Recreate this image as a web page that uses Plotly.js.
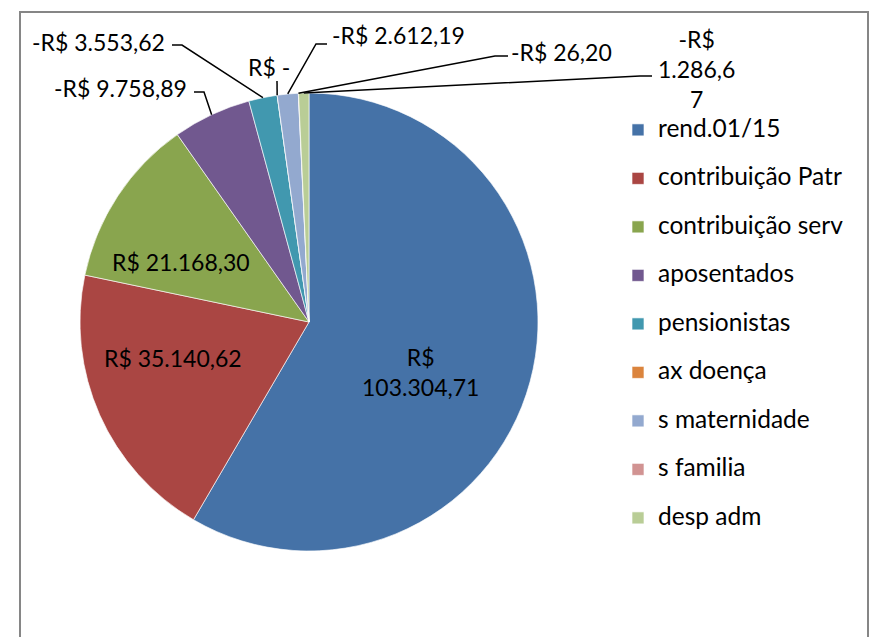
<!DOCTYPE html>
<html>
<head>
<meta charset="utf-8">
<script src="https://cdn.plot.ly/plotly-3.0.1.min.js"></script>
<style>html,body{margin:0;padding:0;background:#fff;}#chart{width:872px;height:637px;}</style>
</head>
<body>
<div id="chart"></div>
<script>
// ---- data ----
const categories = ['rend.01/15', 'contribuição Patr', 'contribuição serv', 'aposentados', 'pensionistas', 'ax doença', 's maternidade', 's familia', 'desp adm'];
const values = [103304.71, 35140.62, 21168.30, -9758.89, -3553.62, 0, -2612.19, -26.20, -1286.67];
const colors = ['#4572A7', '#AA4643', '#89A54E', '#71588F', '#4198AF', '#DB843D', '#93A9CF', '#D19392', '#B9CD96'];

// ---- helpers ----
function fmt(v) {
  if (v === 0) return 'R$ -';
  const sign = v < 0 ? '-' : '';
  const parts = Math.abs(v).toFixed(2).split('.');
  const intPart = parts[0].replace(/\B(?=(\d{3})+(?!\d))/g, '.');
  return sign + 'R$ ' + intPart + ',' + parts[1];
}
const W = 872, H = 637;
const px = x => x / W, py = y => 1 - y / H;

// pie geometry (layout)
const CX = 309, CY = 322, R = 229;
const absVals = values.map(Math.abs);
const total = absVals.reduce((a, b) => a + b, 0);
function edge(i) {
  let cum = 0;
  for (let k = 0; k < i; k++) cum += absVals[k];
  const th = 2 * Math.PI * (cum + absVals[i] / 2) / total;
  return [CX + R * Math.sin(th), CY - R * Math.cos(th)];
}

const labelsText = values.map(fmt);
labelsText[0] = labelsText[0].replace(' ', '<br>');
labelsText[8] = labelsText[8].replace(' ', '<br>');
labelsText[8] = labelsText[8].slice(0, -1) + '<br>' + labelsText[8].slice(-1);

// data-label placement (layout, pixels): text centre and optional leader elbow/stub
const placement = [
  {tx: 420, ty: 372},
  {tx: 173, ty: 358},
  {tx: 181, ty: 262},
  {tx: 120, ty: 88, elbow: [204, 92], stub: [194, 92]},
  {tx: 98, ty: 42, elbow: [182, 45], stub: [172, 45]},
  {tx: 269, ty: 67, elbow: [277, 81], stub: [277, 81]},
  {tx: 398, ty: 35, elbow: [316, 44], stub: [327, 44]},
  {tx: 561, ty: 52, elbow: [495, 56], stub: [508, 56]},
  {tx: 696, ty: 69, elbow: [640, 76], stub: [652, 76]}
];

const FONT = 'Lato, "Open Sans", sans-serif';
const annotations = [];
const shapes = [];
placement.forEach((o, i) => {
  annotations.push({
    x: px(o.tx), y: py(o.ty), xref: 'paper', yref: 'paper',
    text: labelsText[i], showarrow: false, xanchor: 'center', yanchor: 'middle',
    font: {family: FONT, size: 23, color: '#000'}
  });
  if (o.elbow) {
    const e = edge(i);
    shapes.push({
      type: 'path', xref: 'paper', yref: 'paper',
      path: 'M' + px(e[0]) + ',' + py(e[1]) + ' L' + px(o.elbow[0]) + ',' + py(o.elbow[1]) + ' L' + px(o.stub[0]) + ',' + py(o.stub[1]),
      line: {color: '#000', width: 1.5}
    });
  }
});
// chart frame
shapes.push({type: 'rect', xref: 'paper', yref: 'paper', x0: px(20), x1: px(868), y0: -0.05, y1: py(12), line: {color: '#868686', width: 2}});

const trace = {
  type: 'pie',
  labels: categories.map(c => '<span style="font-size:24.5px">' + c + '</span><br>&nbsp;'),
  values: absVals,
  sort: false,
  direction: 'clockwise',
  rotation: 0,
  marker: {colors: colors, line: {color: 'rgba(255,255,255,0.8)', width: 0.8}},
  textinfo: 'none',
  hoverinfo: 'none',
  domain: {x: [px(CX - R), px(CX + R)], y: [py(CY + R), py(CY - R)]}
};

const layout = {
  width: W, height: H,
  margin: {l: 0, r: 0, t: 0, b: 0},
  paper_bgcolor: '#fff',
  font: {family: FONT, color: '#000'},
  showlegend: true,
  legend: {x: px(618), y: py(112), xanchor: 'left', yanchor: 'top', valign: 'top',
           font: {family: FONT, size: 17.5, color: '#000'}, bgcolor: 'rgba(0,0,0,0)'},
  annotations: annotations,
  shapes: shapes
};

Plotly.newPlot('chart', [trace], layout, {displayModeBar: false, staticPlot: true});
</script>
</body>
</html>
